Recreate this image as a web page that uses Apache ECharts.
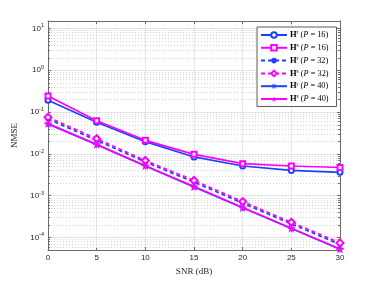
<!DOCTYPE html>
<html>
<head>
<meta charset="utf-8">
<script src="https://cdn.jsdelivr.net/npm/echarts@6/dist/echarts.min.js"></script>
<style>html,body{margin:0;padding:0;background:#fff;}#c{width:374px;height:281px;}</style>
</head>
<body>
<div id="c"></div>
<script>
// ---- data ----
var snr = [0, 5, 10, 15, 20, 25, 30];
var hr16 = [0.19, 0.057, 0.0195, 0.0084, 0.0051, 0.0040, 0.0036];
var hs16 = [0.24, 0.062, 0.021, 0.0097, 0.0058, 0.0051, 0.0047];
var hr32 = [0.068, 0.021, 0.0064, 0.0021, 0.00066, 0.00021, 0.000068];
var hs32 = [0.075, 0.023, 0.0069, 0.0023, 0.00072, 0.00023, 0.000074];
var hr40 = [0.052, 0.0165, 0.0051, 0.0016, 0.00051, 0.000163, 0.000052];
var hs40 = [0.053, 0.0168, 0.0052, 0.00165, 0.00052, 0.000166, 0.000053];
var seriesKeys = ['r16', 's16', 'r32', 's32', 'r40', 's40'];
var seriesSup = ['r', 's', 'r', 's', 'r', 's'];
var seriesP = ['16', '16', '32', '32', '40', '40'];
var xTicks = [0, 5, 10, 15, 20, 25, 30];
var yDecades = [-4, -3, -2, -1, 0, 1];
var minorMult = [2, 3, 4, 5, 6, 7, 8, 9];
var minorDecades = [-5, -4, -3, -2, -1, 0, 1];
var yMin = 5e-5, yMax = 15;

var BLUE = '#1744ff', MAG = '#ff00ff';
var minorVals = [];
minorDecades.forEach(function (d) {
  minorMult.forEach(function (m) {
    var v = m * Math.pow(10, d);
    if (v > yMin && v < yMax) minorVals.push([0, v]);
  });
});

function pair(arr) { return snr.map(function (x, i) { return [x, arr[i]]; }); }

var asterisk = 'path://M9,0 L11,0 L11,20 L9,20 Z M0,9 L20,9 L20,11 L0,11 Z M2.2,3.6 L3.6,2.2 L17.8,16.4 L16.4,17.8 Z M16.4,2.2 L17.8,3.6 L3.6,17.8 L2.2,16.4 Z';
var star = 'path://M50,0 L61,35 L98,35 L68,57 L79,91 L50,70 L21,91 L32,57 L2,35 L39,35 Z';

function mkLine(key, data, color, dashed, symbol, size, filled) {
  return {
    name: key, type: 'line', data: pair(data), z: 5,
    symbol: symbol, symbolSize: size, showSymbol: true,
    lineStyle: { color: color, width: 1.7, type: dashed ? [4, 3] : 'solid' },
    itemStyle: filled ? { color: color } : { color: color, borderColor: color, borderWidth: 1.2 },
    emphasis: { disabled: true }
  };
}

var yLabelFmt = function (v) {
  var l = Math.log10(v);
  var r = Math.round(l);
  if (Math.abs(l - r) > 1e-6 || yDecades.indexOf(r) < 0) return '';
  return '{b|10}{s|' + r + '}';
};

var axisCol = '#6b6b6b';
var option = {
  animation: false,
  backgroundColor: '#fff',
  grid: { left: 48, right: 34, top: 21, bottom: 31 },
  legend: {
    data: seriesKeys, orient: 'vertical', left: 257, top: 27,
    padding: [3, 8, 3, 3], itemGap: 3.3,
    itemWidth: 26, itemHeight: 7,
    backgroundColor: '#fff', borderColor: '#333', borderWidth: 0.8,
    formatter: function (name) {
      var i = seriesKeys.indexOf(name);
      return '{h|H}{sup|' + seriesSup[i] + '}{t| (}{i|P}{t| = ' + seriesP[i] + ')}';
    },
    textStyle: {
      fontFamily: 'Liberation Serif', fontSize: 8, color: '#000', padding: [0, 0, 0, -2],
      rich: {
        h: { fontFamily: 'Liberation Serif', fontWeight: 'bold', fontSize: 8.5, color: '#000' },
        sup: { fontFamily: 'Liberation Serif', fontSize: 5.5, verticalAlign: 'top', padding: [0, 0, 4, 0], color: '#000' },
        t: { fontFamily: 'Liberation Serif', fontSize: 8.3, color: '#000' },
        i: { fontFamily: 'Liberation Serif', fontStyle: 'italic', fontSize: 8.3, color: '#000' }
      }
    }
  },
  xAxis: [{
    type: 'value', min: 0, max: 30, interval: 5,
    name: 'SNR (dB)', nameLocation: 'middle', nameGap: 12,
    nameTextStyle: { fontFamily: 'Liberation Serif', fontSize: 9, color: '#262626' },
    axisLine: { onZero: false, lineStyle: { color: axisCol, width: 1 } },
    axisTick: { inside: true, length: 3, lineStyle: { color: axisCol } },
    axisLabel: { fontFamily: 'Liberation Sans', fontSize: 8, color: '#262626', margin: 4,
      formatter: function (v) { return xTicks.indexOf(v) >= 0 ? String(v) : ''; } },
    splitLine: { show: true, lineStyle: { color: '#e6e6e6', width: 1 } }
  }, {
    type: 'value', min: 0, max: 30, interval: 5, position: 'top',
    axisLine: { onZero: false, lineStyle: { color: axisCol, width: 1 } },
    axisTick: { inside: true, length: 3, lineStyle: { color: axisCol } },
    axisLabel: { show: false }, splitLine: { show: false }
  }],
  yAxis: [{
    type: 'log', logBase: 10, min: yMin, max: yMax,
    name: 'NMSE', nameLocation: 'middle', nameGap: 19,
    nameTextStyle: { fontFamily: 'Liberation Serif', fontSize: 9, color: '#262626' },
    axisLine: { onZero: false, lineStyle: { color: axisCol, width: 1 } },
    axisTick: { inside: true, length: 3, lineStyle: { color: axisCol } },
    axisLabel: {
      formatter: yLabelFmt, margin: 4, showMinLabel: true, showMaxLabel: true,
      rich: {
        b: { fontFamily: 'Liberation Sans', fontSize: 8, color: '#262626' },
        s: { fontFamily: 'Liberation Sans', fontSize: 5.5, color: '#262626', verticalAlign: 'top', padding: [0, 0, 5, 0] }
      }
    },
    splitLine: { show: true, lineStyle: { color: '#e3e3e3', width: 1 } }
  }, {
    type: 'log', logBase: 10, min: yMin, max: yMax, position: 'right',
    axisLine: { onZero: false, lineStyle: { color: axisCol, width: 1 } },
    axisTick: { inside: true, length: 3, lineStyle: { color: axisCol } },
    axisLabel: { show: false }, splitLine: { show: false }
  }],
  series: [
    {
      type: 'custom', name: 'minor', data: minorVals, z: 1, silent: true,
      encode: { x: 0, y: 1 },
      renderItem: function (params, api) {
        var cs = params.coordSys;
        var y = Math.round(api.coord([0, api.value(1)])[1]) + 0.5;
        var x0 = cs.x, x1 = cs.x + cs.width;
        return {
          type: 'group', children: [
            { type: 'line', shape: { x1: x0, y1: y, x2: x1, y2: y },
              style: { stroke: '#d6d6d6', lineWidth: 1, lineDash: [1, 2] } },
            { type: 'line', shape: { x1: x0, y1: y, x2: x0 + 2, y2: y },
              style: { stroke: axisCol, lineWidth: 1 } },
            { type: 'line', shape: { x1: x1 - 2, y1: y, x2: x1, y2: y },
              style: { stroke: axisCol, lineWidth: 1 } }
          ]
        };
      }
    },
    mkLine('r16', hr16, BLUE, false, 'emptyCircle', 5, false),
    mkLine('s16', hs16, MAG, false, 'emptyRect', 5, false),
    mkLine('r32', hr32, BLUE, true, 'circle', 5, true),
    mkLine('s32', hs32, MAG, true, 'emptyDiamond', 7, false),
    mkLine('r40', hr40, BLUE, false, asterisk, 7, true),
    mkLine('s40', hs40, MAG, false, star, 9, true)
  ]
};
var chart = echarts.init(document.getElementById('c'), null, { renderer: 'canvas' });
chart.setOption(option);
</script>
</body>
</html>
